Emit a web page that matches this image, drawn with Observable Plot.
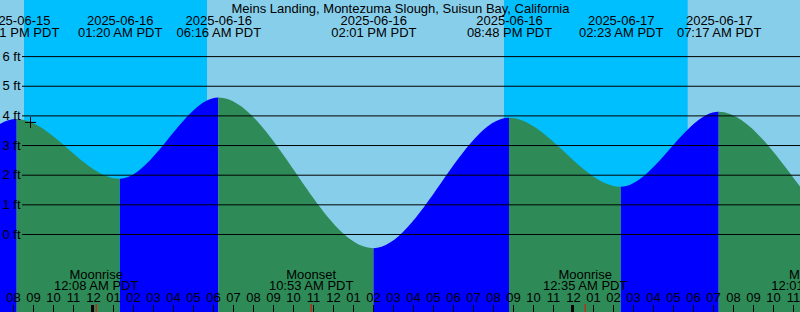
<!DOCTYPE html>
<html>
<head>
<meta charset="utf-8">
<script src="https://cdn.jsdelivr.net/npm/d3@7"></script>
<script src="https://cdn.jsdelivr.net/npm/@observablehq/plot@0.6"></script>
<style>
  html, body { margin: 0; padding: 0; background: #fff; }
  #chart svg { display: block; }
</style>
</head>
<body>
<div id="chart"></div>
<script>
// ---------- data ----------
const title = "Meins Landing, Montezuma Slough, Suisun Bay, California";

// tide extremes (PDT) and heights in ft
const tideTimes   = ["2025-06-15 13:12", "2025-06-15 20:11", "2025-06-16 01:20", "2025-06-16 06:16",
                     "2025-06-16 14:01", "2025-06-16 20:48", "2025-06-17 02:23", "2025-06-17 07:17",
                     "2025-06-17 14:50"];
const tideHeights = [-0.40, 3.88, 1.86, 4.60, -0.48, 3.92, 1.59, 4.12, -0.40];

// sunset / sunrise (PDT)
const sunTimes = ["2025-06-15 20:33", "2025-06-16 05:42", "2025-06-16 20:33", "2025-06-17 05:44"];
const sunKinds = ["set", "rise", "set", "rise"];

// moon events (PDT)
const moonTimes = ["2025-06-16 00:08", "2025-06-16 10:53", "2025-06-17 00:35", "2025-06-17 12:01"];
const moonKinds = ["Moonrise", "Moonset", "Moonrise", "Moonset"];

// current-time marker
const nowTime = "2025-06-15 20:51";
const nowHeight = 3.78;

// axis ticks
const ftTicks = [0, 1, 2, 3, 4, 5, 6];
const hourTicks = d3.range(-4, 36); // hours relative to 2025-06-16 00:00

// ---------- helpers ----------
const BASE = Date.UTC(2025, 5, 16, 0, 0);
function toH(s) {
  const [d, t] = s.split(" ");
  const [Y, M, D] = d.split("-").map(Number);
  const [hh, mm] = t.split(":").map(Number);
  return (Date.UTC(Y, M - 1, D, hh, mm) - BASE) / 3.6e6;
}
function fmtTime(s) {
  const [hh, mm] = s.split(" ")[1].split(":").map(Number);
  const h12 = hh % 12 || 12;
  return `${String(h12).padStart(2, "0")}:${String(mm).padStart(2, "0")} ${hh < 12 ? "AM" : "PM"} PDT`;
}
function fmtHour(h) {
  const h24 = ((h % 24) + 24) % 24;
  return String(h24 % 12 || 12).padStart(2, "0");
}

// smooth curve between consecutive extremes (zero slope at each end)
function Hermite(context) { this._context = context; }
Hermite.prototype = {
  areaStart() { this._line = 0; },
  areaEnd() { this._line = NaN; },
  lineStart() { this._point = 0; },
  lineEnd() {
    if (this._line || (this._line !== 0 && this._point === 1)) this._context.closePath();
    this._line = 1 - this._line;
  },
  point(x, y) {
    x = +x; y = +y;
    if (this._point === 0) {
      this._point = 1;
      if (this._line) this._context.lineTo(x, y); else this._context.moveTo(x, y);
    } else {
      this._point = 2;
      const d = (x - this._x0) / 3;
      this._context.bezierCurveTo(this._x0 + d, this._y0, x - d, y, x, y);
    }
    this._x0 = x; this._y0 = y;
  }
};
const hermite = (ctx) => new Hermite(ctx);

// ---------- derived tables ----------
const xDomain = [-4.65, 35.35];
const yDomain = [-2.631, 7.892];

const tides = tideTimes.map((t, i) => ({t, h: toH(t), v: tideHeights[i]}));
const segs = [];
for (let i = 0; i < tides.length - 1; i++) {
  const a = tides[i], b = tides[i + 1];
  const rising = b.v > a.v;
  segs.push({seg: i, h: a.h, v: a.v, rising}, {seg: i, h: b.h, v: b.v, rising});
}
const tideLabels = tides
  .filter(d => d.h > xDomain[0] - 3 && d.h < xDomain[1] + 3)
  .map(d => ({h: d.h, date: d.t.split(" ")[0], time: fmtTime(d.t)}));

const edges = [xDomain[0], ...sunTimes.map(toH), xDomain[1]];
const sky = [];
for (let i = 0; i < edges.length - 1; i++) {
  const night = i === 0 ? false : sunKinds[i - 1] === "set";
  sky.push({a: edges[i], b: edges[i + 1], night});
}

const moon = moonTimes.map((t, i) => ({h: toH(t), kind: moonKinds[i], time: fmtTime(t)}));

const FONT = "Liberation Sans, Arial, Helvetica, sans-serif";
const FS = 13;

const chart = Plot.plot({
  width: 800,
  height: 312,
  margin: 0,
  style: {fontFamily: FONT, fontSize: FS + "px", background: "#87CEEB"},
  x: {domain: xDomain, range: [0, 800], axis: null},
  y: {domain: yDomain, range: [312, 0], axis: null},
  marks: [
    // day / night sky
    Plot.rect(sky.filter(d => !d.night), {x1: "a", x2: "b", y1: yDomain[0], y2: yDomain[1], fill: "#87CEEB"}),
    Plot.rect(sky.filter(d => d.night), {x1: "a", x2: "b", y1: yDomain[0], y2: yDomain[1], fill: "#00BFFF"}),
    // water: rising (blue) / falling (green)
    Plot.areaY(segs.filter(d => d.rising), {x: "h", y1: yDomain[0], y2: "v", z: "seg", fill: "#0000FF", curve: hermite}),
    Plot.areaY(segs.filter(d => !d.rising), {x: "h", y1: yDomain[0], y2: "v", z: "seg", fill: "#2E8B57", curve: hermite}),
    // grid lines and height labels
    Plot.ruleY(ftTicks, {y: d => d, insetLeft: 22, stroke: "black", strokeWidth: 1}),
    Plot.text(ftTicks, {y: d => d, text: d => `${d} ft`, frameAnchor: "left", dx: 20, textAnchor: "end", fill: "black", fontSize: FS}),
    // current time marker
    Plot.dot([{h: toH(nowTime), v: nowHeight}], {x: "h", y: "v", symbol: "plus", r: 3.7, stroke: "black", strokeWidth: 1}),
    // title
    Plot.text([title], {text: d => d, frameAnchor: "top", dy: 12, lineAnchor: "bottom", fill: "black", fontSize: FS}),
    // tide event labels
    Plot.text(tideLabels, {x: "h", text: "date", frameAnchor: "top", dy: 24.3, lineAnchor: "bottom", fill: "black", fontSize: FS}),
    Plot.text(tideLabels, {x: "h", text: "time", frameAnchor: "top", dy: 36.6, lineAnchor: "bottom", fill: "black", fontSize: FS}),
    // moon labels
    Plot.text(moon, {x: "h", text: "kind", frameAnchor: "top", dy: 278.3, lineAnchor: "bottom", fill: "black", fontSize: FS}),
    Plot.text(moon, {x: "h", text: "time", frameAnchor: "top", dy: 289.5, lineAnchor: "bottom", fill: "black", fontSize: FS}),
    // hour labels and ticks
    Plot.text(hourTicks, {x: d => d, text: d => fmtHour(d), frameAnchor: "top", dy: 301.7, lineAnchor: "bottom", fill: "black", fontSize: FS}),
    Plot.ruleX(hourTicks, {x: d => d, insetTop: 305, stroke: "black", strokeWidth: 1}),
    Plot.ruleX(hourTicks.filter(h => h % 24 === 0), {x: d => d, insetTop: 305, stroke: "black", strokeWidth: 3, dx: -1}),
    Plot.ruleX(moon, {x: "h", insetTop: 304, stroke: "#FF0000", strokeWidth: 1})
  ]
});
document.getElementById("chart").appendChild(chart);
</script>
</body>
</html>
